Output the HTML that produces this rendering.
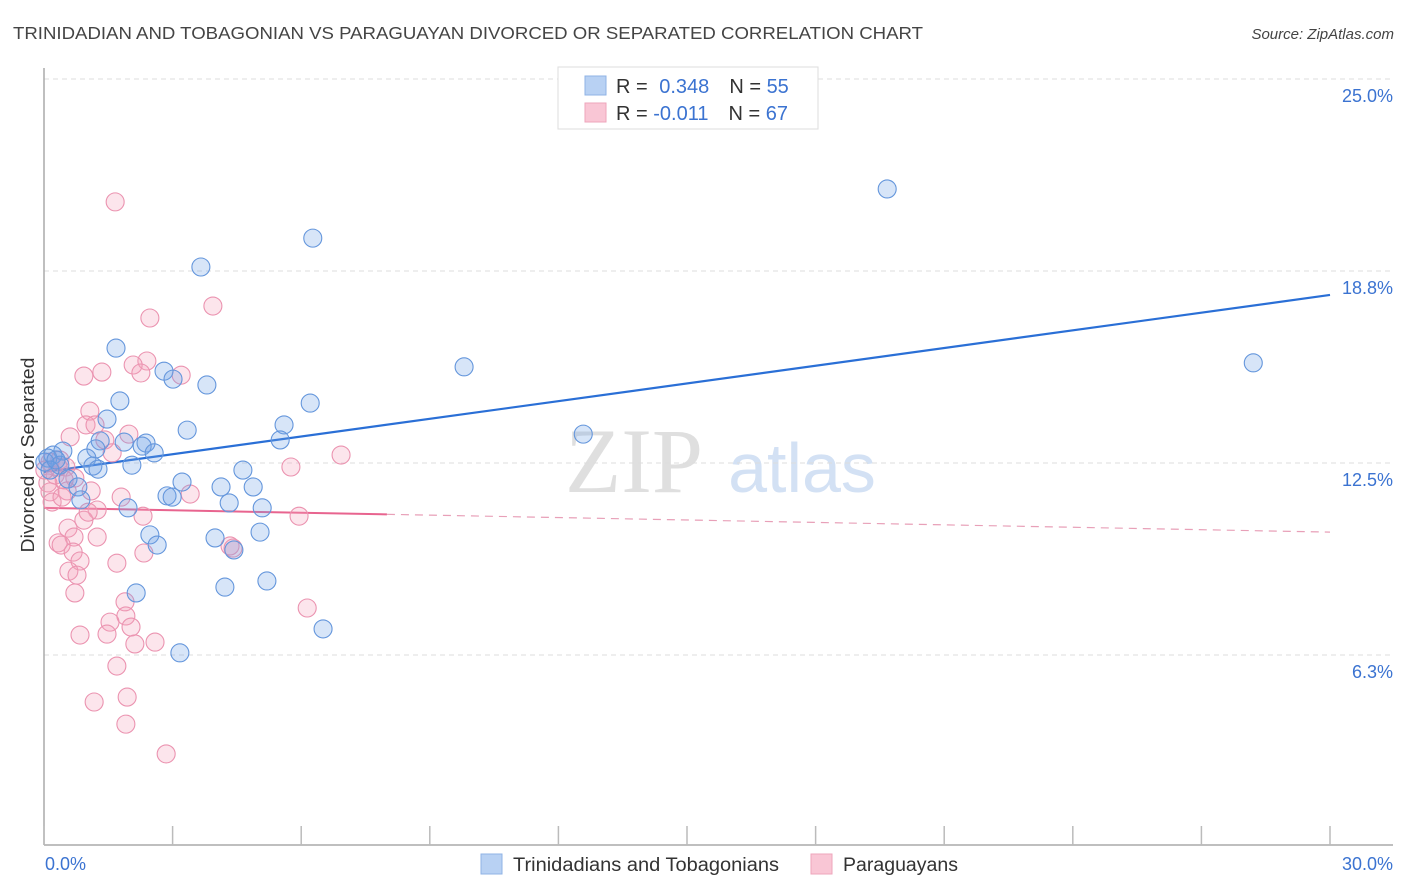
<!DOCTYPE html>
<html><head><meta charset="utf-8">
<style>
body{margin:0;background:#fff;width:1406px;height:892px;overflow:hidden;font-family:"Liberation Sans",sans-serif;}
svg{display:block}
</style></head>
<body>
<svg id="chart" width="1406" height="892" xmlns="http://www.w3.org/2000/svg">
<text x="13" y="39" font-size="17.5" fill="#444" textLength="910" lengthAdjust="spacingAndGlyphs">TRINIDADIAN AND TOBAGONIAN VS PARAGUAYAN DIVORCED OR SEPARATED CORRELATION CHART</text>
<text x="1394" y="39" font-size="15" fill="#444" font-style="italic" text-anchor="end">Source: ZipAtlas.com</text>
<g>
<text x="634" y="492" font-size="92" fill="#d8d8d8" font-family="Liberation Serif, serif" text-anchor="middle" opacity="0.8">ZIP</text>
<text x="802" y="492" font-size="70" fill="#c9daf2" text-anchor="middle" opacity="0.8">atlas</text>
</g>
<g id="grid"></g>
<g id="axes"></g>
<g id="trend"></g>
<g id="points"></g>
<text transform="translate(34,455) rotate(-90)" font-size="18" fill="#333" text-anchor="middle" textLength="195" lengthAdjust="spacingAndGlyphs">Divorced or Separated</text>
<g>
<rect x="558" y="67" width="260" height="62" fill="#fff" stroke="#ddd"/>
<rect x="585" y="76" width="21" height="19" fill="#b8d1f3" stroke="#8fb3e6"/>
<rect x="585" y="103" width="21" height="19" fill="#f9c6d5" stroke="#eea5bb"/>
<text x="616" y="93" font-size="20" fill="#333">R = <tspan fill="#3b73d1" dx="6">0.348</tspan><tspan dx="20">N = </tspan><tspan fill="#3b73d1">55</tspan></text>
<text x="616" y="120" font-size="20" fill="#333">R = <tspan fill="#3b73d1">-0.011</tspan><tspan dx="20">N = </tspan><tspan fill="#3b73d1">67</tspan></text>
</g>
<g>
<rect x="481" y="854" width="21" height="20" fill="#b8d1f3" stroke="#8fb3e6"/>
<text x="513" y="871" font-size="19" fill="#333" textLength="266" lengthAdjust="spacingAndGlyphs">Trinidadians and Tobagonians</text>
<rect x="811" y="854" width="21" height="20" fill="#f9c6d5" stroke="#eea5bb"/>
<text x="843" y="871" font-size="19" fill="#333" textLength="115" lengthAdjust="spacingAndGlyphs">Paraguayans</text>
</g>
</svg>
<script>
const yTicks=[6.25,12.5,18.75,25];
const yTickLabels=["6.3%","12.5%","18.8%","25.0%"];
const xTicks=[0,3,6,9,12,15,18,21,24,27,30];
const blueX=[19.67,6.27,3.66,1.68,9.80,28.21,2.80,3.01,3.80,1.77,6.21,1.47,3.34,5.60,12.58,5.51,1.87,2.38,1.31,2.29,2.57,1.21,0.44,0.21,0.09,1.00,2.05,0.37,1.14,1.26,4.64,0.56,3.22,0.79,4.13,4.88,2.87,2.99,0.86,4.32,1.96,5.09,2.47,3.99,5.04,2.64,4.43,4.22,5.20,2.15,6.51,3.17,0.02,0.14,0.28];
const blueY=[21.42,19.82,18.88,16.24,15.63,15.76,15.49,15.23,15.04,14.52,14.45,13.93,13.57,13.74,13.44,13.25,13.18,13.15,13.22,13.05,12.83,12.96,12.89,12.76,12.66,12.66,12.43,12.43,12.40,12.30,12.27,11.98,11.88,11.72,11.72,11.72,11.43,11.39,11.30,11.20,11.04,11.04,10.16,10.06,10.25,9.83,9.67,8.46,8.66,8.27,7.10,6.32,12.53,12.27,12.60];
const pinkX=[1.66,3.94,2.47,2.40,2.08,2.26,1.35,0.93,3.20,1.07,0.98,1.19,1.98,0.61,1.42,1.59,0.37,0.51,5.76,6.93,0.26,0.72,0.47,0.09,0.14,1.10,3.41,0.54,1.80,0.19,1.24,2.31,0.93,5.95,0.56,0.70,1.24,0.33,0.40,4.34,4.41,2.33,0.68,1.70,0.84,0.58,0.77,0.72,1.89,6.14,1.91,1.54,2.03,0.84,1.47,2.12,2.59,1.70,1.94,1.17,1.91,2.85,0.14,0.02,0.33,0.42,1.03];
const pinkY=[21.00,17.61,17.22,15.82,15.69,15.43,15.46,15.33,15.36,14.19,13.74,13.74,13.44,13.35,13.25,12.83,12.60,12.37,12.37,12.76,12.11,12.01,11.95,11.85,11.56,11.59,11.49,11.59,11.39,11.23,10.97,10.77,10.64,10.77,10.38,10.09,10.09,9.90,9.83,9.80,9.73,9.57,9.60,9.24,9.31,8.98,8.85,8.27,7.98,7.78,7.52,7.32,7.16,6.90,6.93,6.61,6.67,5.89,4.88,4.72,4.00,3.03,12.53,12.27,12.37,11.39,10.90];
const blueTrend=[12.21,17.97];
const pinkTrend=[11.04,10.25];
const pinkSolidEnd=8.0;

const NS="http://www.w3.org/2000/svg";
function sx(v){return 44+v*42.867;}
function sy(v){return 463-(v-12.5)*30.72;}
function mk(tag,attrs,parent){const e=document.createElementNS(NS,tag);for(const k in attrs)e.setAttribute(k,attrs[k]);parent.appendChild(e);return e;}
const grid=document.getElementById('grid'),axes=document.getElementById('axes'),trend=document.getElementById('trend'),pts=document.getElementById('points');
yTicks.forEach((t,i)=>{
  const l=mk('line',{x1:44,x2:1393,y1:sy(t),y2:sy(t),stroke:'#ddd','stroke-dasharray':'5,4'},grid);
  
  
  const tx=mk('text',{x:1393,y:sy(t)+23,'font-size':18,fill:'#3b73d1','text-anchor':'end'},axes);
  tx.textContent=yTickLabels[i];
  
  
});
let a=mk('line',{x1:44,x2:44,y1:68,y2:845,stroke:'#aaa','stroke-width':1.5},axes);


a=mk('line',{x1:44,x2:1393,y1:845,y2:845,stroke:'#aaa','stroke-width':1.5},axes);


xTicks.forEach(t=>{
  const l=mk('line',{x1:sx(t),x2:sx(t),y1:826,y2:845,stroke:'#bbb','stroke-width':1.5},axes);
  
  
});
let xl=mk('text',{x:45,y:870,'font-size':18,fill:'#3b73d1'},axes);xl.textContent='0.0%';


xl=mk('text',{x:1393,y:870,'font-size':18,fill:'#3b73d1','text-anchor':'end'},axes);xl.textContent='30.0%';



function circles(X,Y,fill,stroke,name){
  X.forEach((x,i)=>{
    const c=mk('circle',{cx:sx(x),cy:sy(Y[i]),r:9,fill:fill,stroke:stroke,'stroke-width':1.1},pts);
    
    
  });
}
circles(pinkX,pinkY,'rgba(244,160,188,0.28)','#eb93b0','paraguayan-point');
circles(blueX,blueY,'rgba(110,160,230,0.28)','#6496dc','trinidadian-point');

let t1=mk('line',{x1:sx(0),y1:sy(blueTrend[0]),x2:sx(30),y2:sy(blueTrend[1]),stroke:'#2a6fd6','stroke-width':2.2},trend);


const pAt=v=>pinkTrend[0]+(pinkTrend[1]-pinkTrend[0])*v/30;
let t2=mk('line',{x1:sx(0),y1:sy(pinkTrend[0]),x2:sx(pinkSolidEnd),y2:sy(pAt(pinkSolidEnd)),stroke:'#e8648f','stroke-width':2},trend);


let t3=mk('line',{x1:sx(pinkSolidEnd),y1:sy(pAt(pinkSolidEnd)),x2:sx(30),y2:sy(pinkTrend[1]),stroke:'#e8a0b8','stroke-width':1.2,'stroke-dasharray':'8,6'},trend);


</script>
</body></html>
